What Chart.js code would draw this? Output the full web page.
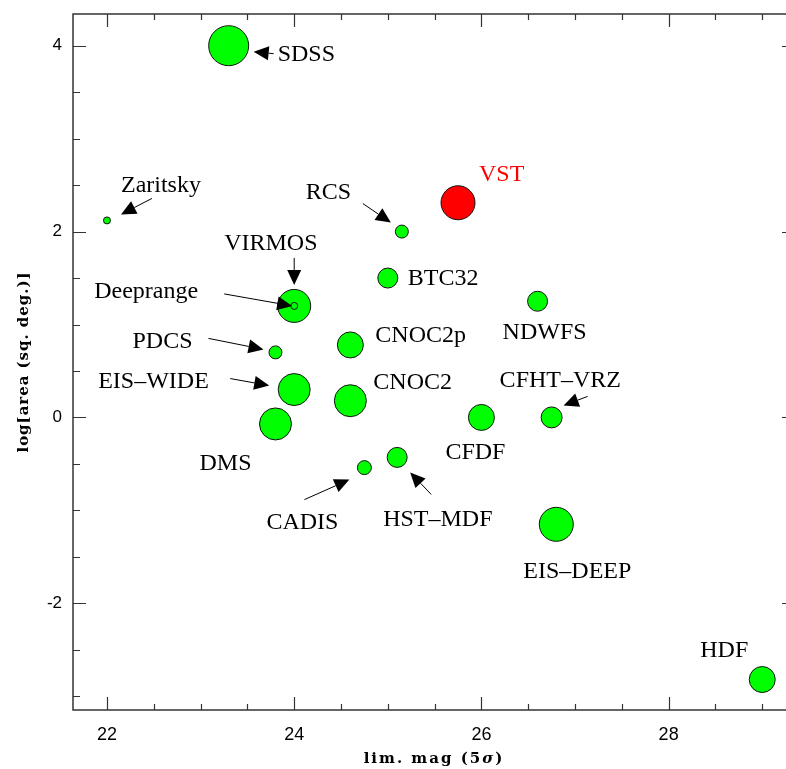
<!DOCTYPE html>
<html>
<head>
<meta charset="utf-8">
<script src="https://cdn.jsdelivr.net/npm/chart.js@4.4.1/dist/chart.umd.min.js"></script>
<style>
  html, body { margin: 0; padding: 0; background: #fff; overflow: hidden; }
  #wrap { width: 786px; height: 769px; overflow: hidden; }
  canvas { display: block; }
</style>
</head>
<body>
<div id="wrap"><canvas id="chart" width="810" height="769"></canvas></div>
<script>
// survey data (lim. mag, log area, symbol radius)
const surveys = ["SDSS", "Zaritsky", "RCS", "BTC32", "VIRMOS", "NDWFS", "PDCS", "CNOC2p", "EIS–WIDE",
  "CNOC2", "DMS", "CFDF", "CFHT–VRZ", "CADIS", "HST–MDF", "EIS–DEEP", "HDF", "Deeprange"];
const limMag  = [23.3, 22.0, 25.15, 25.0, 24.0, 26.6, 23.8, 24.6, 24.0, 24.6, 23.8, 26.0, 26.75, 24.75, 25.1, 26.8, 29.0, 24.0];
const logArea = [4.0, 2.12, 2.0, 1.5, 1.2, 1.25, 0.7, 0.78, 0.3, 0.18, -0.07, 0.0, 0.0, -0.54, -0.43, -1.15, -2.82, 1.2];
const bubbleR = [20, 3.5, 6.5, 10, 16.5, 10, 6.5, 13, 16, 16, 16, 13, 10.5, 7, 10, 17, 13, 3.5];

const vstName = "VST";
const vstMag = 25.75;
const vstArea = 2.31;
const vstR = 17;

const xTicks = [22, 24, 26, 28];
const yTicks = [-2, 0, 2, 4];
const minorStep = 0.5;

// label placement, px offsets from the symbol centre
const labelOffset = {
  "SDSS": [49, 9], "Zaritsky": [14, -35], "RCS": [-96, -39], "BTC32": [20, 1], "VIRMOS": [-70, -62],
  "NDWFS": [-35, 31], "PDCS": [-143, -11], "CNOC2p": [25, -9], "EIS–WIDE": [-196, -8], "CNOC2": [23, -18],
  "CFDF": [-36, 35], "CFHT–VRZ": [-52, -37], "DMS": [-76, 40], "CADIS": [-98, 55], "HST–MDF": [-14, 62],
  "EIS–DEEP": [-33, 47], "HDF": [-62, -29], "Deeprange": [-200, -14], "VST": [21, -28]
};
// arrows: tail dx, dy, tip dx, dy
const arrowOffset = {
  "SDSS": [45, 8, 25, 6], "Zaritsky": [45, -22, 14, -6], "RCS": [-39, -28, -11, -9],
  "VIRMOS": [0, -48, 0, -21], "Deeprange": [-70, -12, -2, 0], "PDCS": [-67, -14, -12, -3],
  "EIS–WIDE": [-64, -11, -25, -4], "CFHT–VRZ": [36, -21, 12, -12], "CADIS": [-60, 32, -15, 12],
  "HST–MDF": [34, 37, 13, 15]
};

const framePlugin = {
  id: "frame",
  afterDatasetsDraw(chart) {
    const { ctx, chartArea: a, scales: { x, y } } = chart;
    ctx.save();
    ctx.strokeStyle = "#333";
    ctx.lineWidth = 1.5;
    ctx.strokeRect(a.left, a.top, a.right - a.left, a.bottom - a.top);
    ctx.lineWidth = 1.2;
    ctx.beginPath();
    for (let v = Math.ceil(x.min / minorStep) * minorStep; v <= x.max; v += minorStep) {
      const px = Math.round(x.getPixelForValue(v)) + 0.5;
      const len = Math.abs(v % 2) < 1e-6 ? 13 : 6;
      ctx.moveTo(px, a.bottom); ctx.lineTo(px, a.bottom - len);
      ctx.moveTo(px, a.top); ctx.lineTo(px, a.top + len);
    }
    for (let v = Math.ceil(y.min / minorStep) * minorStep; v <= y.max; v += minorStep) {
      const py = Math.round(y.getPixelForValue(v)) + 0.5;
      const len = Math.abs(v % 2) < 1e-6 ? 13 : 7;
      ctx.moveTo(a.left, py); ctx.lineTo(a.left + len, py);
      ctx.moveTo(a.right, py); ctx.lineTo(a.right - len, py);
    }
    ctx.stroke();

    // axis titles
    ctx.fillStyle = "#000";
    ctx.textBaseline = "alphabetic";
    const fitText = (str, target) => {
      ctx.letterSpacing = "0px";
      const w = ctx.measureText(str).width;
      ctx.letterSpacing = ((target - w) / str.length) + "px";
    };
    // x title with italic sigma
    const cx = (a.left + a.right) / 2;
    const parts = [["lim. mag (5", 'bold 15px "DejaVu Serif"'], ["σ", 'italic bold 15px "DejaVu Serif"'], [")", 'bold 15px "DejaVu Serif"']];
    ctx.letterSpacing = "2px";
    let total = 0;
    const widths = parts.map(([t, f]) => { ctx.font = f; const w = ctx.measureText(t).width; total += w; return w; });
    let tx = cx - total / 2;
    ctx.textAlign = "left";
    parts.forEach(([t, f], i) => { ctx.font = f; ctx.fillText(t, tx, 763); tx += widths[i]; });

    // y title
    ctx.save();
    ctx.translate(28, (a.top + a.bottom) / 2);
    ctx.rotate(-Math.PI / 2);
    ctx.font = 'bold 15px "DejaVu Serif"';
    fitText("log[area (sq. deg.)]", 181);
    ctx.textAlign = "center";
    ctx.fillText("log[area (sq. deg.)]", 0, 0);
    ctx.restore();
    ctx.letterSpacing = "0px";
    ctx.restore();
  }
};

const labelPlugin = {
  id: "surveyLabels",
  afterDatasetsDraw(chart) {
    const { ctx, scales: { x, y } } = chart;
    const items = surveys.map((s, i) => [s, limMag[i], logArea[i], "#000"]);
    items.push([vstName, vstMag, vstArea, "#ff0000"]);
    ctx.save();
    ctx.font = '24px "Liberation Serif"';
    ctx.textBaseline = "middle";
    ctx.textAlign = "left";
    items.forEach(([name, mx, my, col]) => {
      const px = x.getPixelForValue(mx);
      const py = y.getPixelForValue(my);
      const off = labelOffset[name];
      ctx.fillStyle = col;
      ctx.fillText(name, px + off[0], py + off[1]);
      const ar = arrowOffset[name];
      if (ar) {
        const x0 = px + ar[0], y0 = py + ar[1], x1 = px + ar[2], y1 = py + ar[3];
        const ang = Math.atan2(y1 - y0, x1 - x0);
        const hl = 15, hw = 7;
        const bx = x1 - hl * Math.cos(ang), by = y1 - hl * Math.sin(ang);
        ctx.strokeStyle = "#000";
        ctx.lineWidth = 1;
        ctx.beginPath();
        ctx.moveTo(x0, y0); ctx.lineTo(bx, by);
        ctx.stroke();
        ctx.fillStyle = "#000";
        ctx.beginPath();
        ctx.moveTo(x1, y1);
        ctx.lineTo(bx + hw * Math.sin(ang), by - hw * Math.cos(ang));
        ctx.lineTo(bx - hw * Math.sin(ang), by + hw * Math.cos(ang));
        ctx.closePath();
        ctx.fill();
      }
    });
    ctx.restore();
  }
};

new Chart(document.getElementById("chart"), {
  type: "bubble",
  data: {
    datasets: [
      {
        label: "surveys",
        data: surveys.map((s, i) => ({ x: limMag[i], y: logArea[i], r: bubbleR[i] })),
        backgroundColor: "#00ff00",
        borderColor: "#111",
        borderWidth: 1
      },
      {
        label: vstName,
        data: [{ x: vstMag, y: vstArea, r: vstR }],
        backgroundColor: "#ff0000",
        borderColor: "#111",
        borderWidth: 1
      }
    ]
  },
  options: {
    responsive: false,
    animation: false,
    devicePixelRatio: 1,
    events: [],
    layout: { autoPadding: false, padding: { top: 14, right: 15, left: 0, bottom: 0 } },
    plugins: { legend: { display: false }, tooltip: { enabled: false } },
    scales: {
      x: {
        type: "linear",
        min: 21.637,
        max: 29.35,
        grid: { display: false, drawTicks: false },
        border: { display: false },
        ticks: { color: "#000", font: { family: "Liberation Sans", size: 18 }, padding: 14, autoSkip: false, maxRotation: 0 },
        afterBuildTicks: (s) => { s.ticks = xTicks.map((v) => ({ value: v })); },
        afterFit: (s) => { s.height = 59; s.paddingLeft = 0; s.paddingRight = 0; }
      },
      y: {
        type: "linear",
        min: -3.148,
        max: 4.341,
        grid: { display: false, drawTicks: false },
        border: { display: false },
        ticks: { color: "#000", font: { family: "Liberation Sans", size: 17 }, padding: 11, autoSkip: false },
        afterBuildTicks: (s) => { s.ticks = yTicks.map((v) => ({ value: v })); },
        afterFit: (s) => { s.width = 73; s.paddingTop = 0; s.paddingBottom = 0; }
      }
    }
  },
  plugins: [framePlugin, labelPlugin]
});
</script>
</body>
</html>
